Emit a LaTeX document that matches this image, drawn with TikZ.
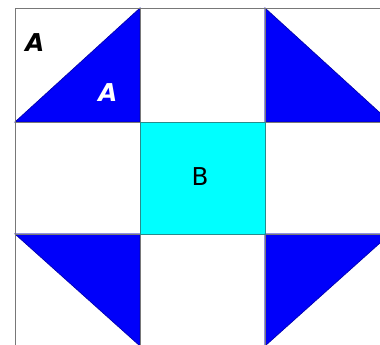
\documentclass[tikz,border=0pt]{standalone}
\usepackage{fontspec}
\setmainfont{DejaVu Sans}
\definecolor{tblue}{RGB}{0,0,250}
\definecolor{tcyan}{RGB}{0,255,255}
\definecolor{tedge}{RGB}{40,140,140}
\definecolor{tgrid}{RGB}{120,120,120}
\tikzset{
  segitiga/.style={fill=tblue, draw=tblue!70!black, line width=0.6pt},
  huruf/.style={font=\fontsize{21}{24}\selectfont\bfseries\itshape}
}
\begin{document}
\begin{tikzpicture}[x=0.03cm, y=-0.03cm]
    \useasboundingbox (0,0) rectangle (380,345);
    \fill[white] (0,0) rectangle (380,345);
    \clip (0,0) rectangle (380,345);
    % Persegi B
    \fill[tcyan] (140,122) rectangle (265,234);
    % Segitiga A
    \fill[segitiga] (15,122) -- (140,8) -- (140,122) -- cycle;
    \fill[segitiga] (265,8) -- (390,122) -- (265,122) -- cycle;
    \fill[segitiga] (15,234) -- (140,234) -- (140,346) -- cycle;
    \fill[segitiga] (265,234) -- (390,234) -- (265,346) -- cycle;
    % Garis kotak
    \draw[tgrid, line width=0.8pt] (15,350) -- (15,8) -- (390,8);
    \draw[tgrid, line width=0.6pt] (140,8) -- (140,350);
    \draw[tgrid, line width=0.6pt] (265,8) -- (265,350);
    \draw[tgrid, line width=0.6pt] (15,122) -- (390,122);
    \draw[tgrid, line width=0.6pt] (15,234) -- (390,234);
    \draw[tedge, line width=0.8pt] (140,122) rectangle (265,234);
    % Label
    \node[huruf] (labelA) at (35,43) {A};
    \node[huruf, white] (labelAdalam) at (108,93) {A};
    \node[font=\fontsize{21}{24}\selectfont] (labelB) at (200,177) {B};
\end{tikzpicture}
\end{document}
